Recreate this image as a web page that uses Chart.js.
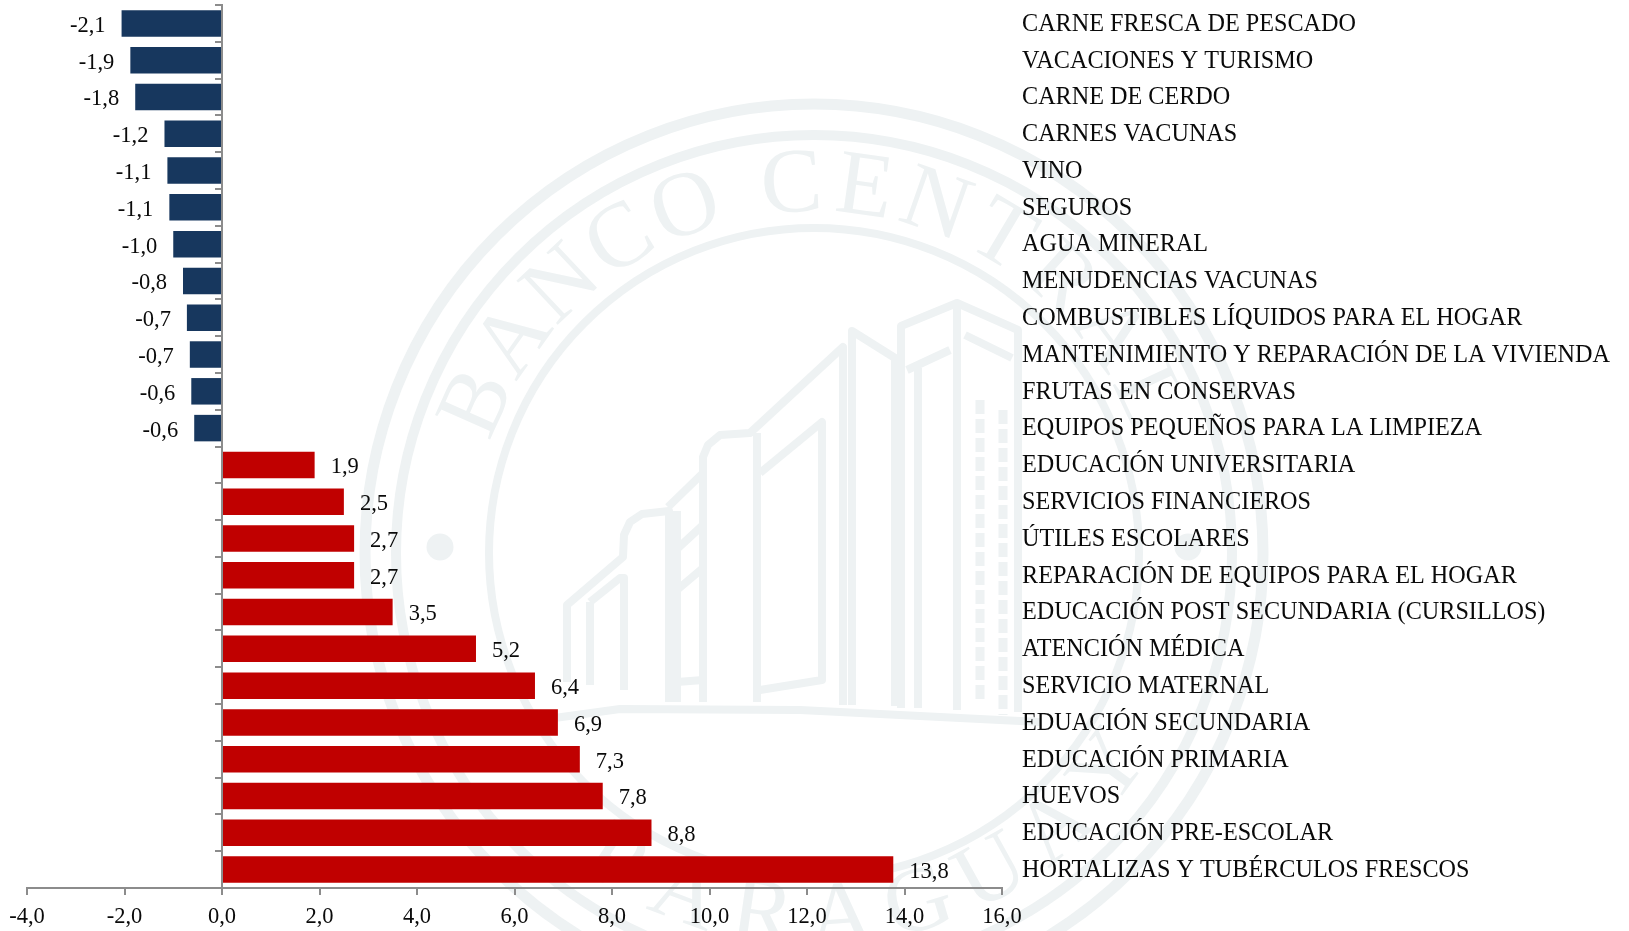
<!DOCTYPE html>
<html>
<head>
<meta charset="utf-8">
<style>html,body{margin:0;padding:0;background:#fff}#w{width:1629px;height:931px;position:relative}</style>
<script src="https://cdn.jsdelivr.net/npm/chart.js@4"></script>
</head>
<body>
<div id="w"><canvas id="c" width="1629" height="931"></canvas></div>
<script>
const categories = ["CARNE FRESCA DE PESCADO","VACACIONES Y TURISMO","CARNE DE CERDO","CARNES VACUNAS","VINO","SEGUROS","AGUA MINERAL","MENUDENCIAS VACUNAS","COMBUSTIBLES LÍQUIDOS PARA EL HOGAR","MANTENIMIENTO Y REPARACIÓN DE LA VIVIENDA","FRUTAS EN CONSERVAS","EQUIPOS PEQUEÑOS PARA LA LIMPIEZA","EDUCACIÓN UNIVERSITARIA","SERVICIOS FINANCIEROS","ÚTILES ESCOLARES","REPARACIÓN DE EQUIPOS PARA EL HOGAR","EDUCACIÓN POST SECUNDARIA (CURSILLOS)","ATENCIÓN MÉDICA","SERVICIO MATERNAL","EDUACIÓN SECUNDARIA","EDUCACIÓN PRIMARIA","HUEVOS","EDUCACIÓN PRE-ESCOLAR","HORTALIZAS Y TUBÉRCULOS FRESCOS"];
const values = [-2.06,-1.88,-1.78,-1.18,-1.12,-1.08,-1.0,-0.8,-0.72,-0.66,-0.63,-0.57,1.9,2.5,2.71,2.71,3.5,5.21,6.42,6.89,7.34,7.81,8.81,13.77];
const NEG_COLOR = "#17375E", POS_COLOR = "#C00000", AXIS_COLOR = "#8C8C8C", TEXT_COLOR = "#0A0A0A", MARK = "#EEF2F3";
const FONT = '"Liberation Serif"';
const fmt = v => v.toFixed(1).replace(".", ",");
const noPad = s => { s.paddingTop = 0; s.paddingBottom = 0; s.paddingLeft = 0; s.paddingRight = 0; };

const watermark = {
  id: "watermark",
  beforeDraw(chart) {
    const c = chart.ctx, cx = 814, cy = 553;
    c.save();
    c.fillStyle = "#fff"; c.fillRect(0, 0, chart.width, chart.height);
    c.strokeStyle = MARK; c.fillStyle = MARK; c.lineJoin = "round";
    [[449, 11], [418, 10], [325, 8]].forEach(([r, w]) => {
      c.lineWidth = w; c.beginPath(); c.arc(cx, cy, r, 0, Math.PI * 2); c.stroke();
    });
    [[440, 547], [1188, 547]].forEach(([x, y]) => { c.beginPath(); c.arc(x, y, 13.5, 0, Math.PI * 2); c.fill(); });
    c.font = "92px " + FONT; c.textAlign = "center"; c.textBaseline = "alphabetic";
    const put = (ch, deg, r, bottom) => {
      const a = deg * Math.PI / 180;
      c.save();
      if (bottom) { c.translate(cx + r * Math.sin(a), cy + r * Math.cos(a)); c.rotate(-a); }
      else { c.translate(cx + r * Math.sin(a), cy - r * Math.cos(a)); c.rotate(a); }
      c.fillText(ch, 0, 0); c.restore();
    };
    let d = -66;
    [..."BANCO CENTRAL"].forEach(ch => { if (ch !== " ") { put(ch, d, 342, false); d += 11.4; } else d += 5.5; });
    d = -33;
    [..."PARAGUAY"].forEach(ch => { put(ch, d, 392, true); d += 12.4; });
    c.lineWidth = 8;
    const path = pts => { c.beginPath(); pts.forEach(([x, y], i) => i ? c.lineTo(x, y) : c.moveTo(x, y)); c.stroke(); };
    [
      [[567,682],[567,605],[623,557],[624,535],[630,522],[642,514],[669,511],[669,702]],
      [[590,602],[620,578],[624,578],[624,690]],
      [[590,602],[590,685]],
      [[677,549],[703,525]],[[677,590],[703,568]],
      [[668,507],[703,473],[703,457],[708,445],[720,435],[750,433],[843,347],[843,705]],
      [[703,473],[703,702]],
      [[677,511],[677,702]],[[677,682],[703,680]],
      [[757,433],[757,702]],
      [[760,473],[822,422],[822,680],[760,690]],
      [[852,705],[852,331],[895,358],[895,706]],
      [[901,708],[901,326],[957,303],[1018,330],[1018,712]],
      [[907,370],[950,350]],[[957,303],[957,710]],[[965,335],[1012,358]],
      [[918,368],[918,708]],
      [[540,720],[620,709],[800,710],[1040,722]]
    ].forEach(path);
    c.setLineDash([14, 5]); c.lineWidth = 9;
    [[980, 400, 700], [1003, 410, 715]].forEach(([x, a, b]) => path([[x, a], [x, b]]));
    c.restore();
  }
};

const valueLabels = {
  id: "valueLabels",
  afterDatasetsDraw(chart) {
    const c = chart.ctx, meta = chart.getDatasetMeta(0);
    c.save();
    c.font = "22.5px " + FONT; c.fillStyle = TEXT_COLOR; c.textBaseline = "middle";
    meta.data.forEach((el, i) => {
      const v = values[i];
      c.textAlign = v < 0 ? "right" : "left";
      c.fillText(fmt(v), el.x + (v < 0 ? -16 : 16), el.y + 2.5);
    });
    c.restore();
  }
};

new Chart(document.getElementById("c"), {
  type: "bar",
  data: { labels: categories, datasets: [{ data: values, backgroundColor: values.map(v => v < 0 ? NEG_COLOR : POS_COLOR), barPercentage: 0.72, categoryPercentage: 1 }] },
  plugins: [watermark, valueLabels],
  options: {
    indexAxis: "y", responsive: false, animation: false,
    layout: { padding: { left: 27, top: 5, right: 0, bottom: 0 } },
    plugins: { legend: { display: false }, tooltip: { enabled: false } },
    scales: {
      x: {
        min: -4, max: 16,
        afterFit(s) { s.height = 43; noPad(s); },
        border: { color: AXIS_COLOR, width: 2 },
        grid: { drawOnChartArea: false, color: AXIS_COLOR, lineWidth: 2, tickLength: 7 },
        ticks: { stepSize: 2, maxRotation: 0, padding: 9, color: TEXT_COLOR, font: { family: FONT, size: 22.5 }, callback: v => fmt(v) }
      },
      y: {
        position: { x: 0 },
        afterFit: noPad,
        border: { color: AXIS_COLOR, width: 2 },
        grid: { offset: true, drawOnChartArea: false, color: AXIS_COLOR, lineWidth: 2, tickLength: 6 },
        ticks: { display: false }
      },
      y2: {
        type: "category", labels: categories, position: "right", offset: true,
        afterFit(s) { s.width = 627; noPad(s); },
        border: { display: false },
        grid: { display: false, drawTicks: false },
        ticks: { autoSkip: false, padding: 20, labelOffset: 1, color: TEXT_COLOR, font: { family: FONT, size: 24.2 } }
      }
    }
  }
});
</script>
</body>
</html>
